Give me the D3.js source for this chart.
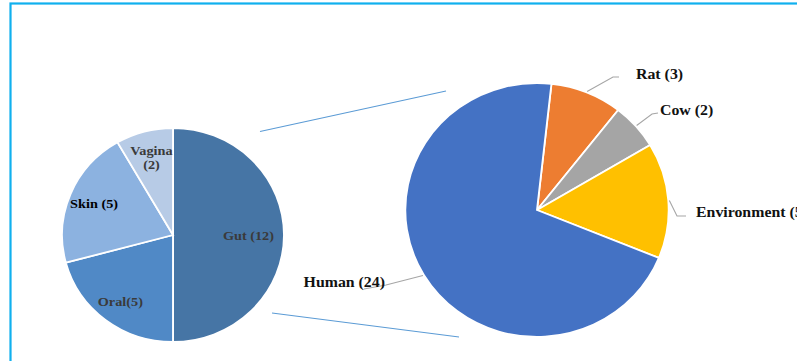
<!DOCTYPE html>
<html>
<head>
<meta charset="utf-8">
<script src="https://cdn.jsdelivr.net/npm/d3@7"></script>
<style>
	body { margin: 0; background: #fff; }
	svg { display: block; }
	.lbl { font-family: "Liberation Serif", "Times New Roman", serif; font-weight: bold; }
</style>
</head>
<body>
<div id="chart-area"></div>
<script>
// sites (left pie)
const siteNames = ["Gut", "Oral", "Skin", "Vagina"];
const siteCounts = [12, 5, 5, 2];
const siteLabels = [["Gut (12)"], ["Oral(5)"], ["Skin (5)"], ["Vagina", "(2)"]];

// sources (right pie)
const sourceNames = ["Rat", "Cow", "Environment", "Human"];
const sourceCounts = [3, 2, 5, 24];
const sourceLabels = ["Rat (3)", "Cow (2)", "Environment (5)", "Human (24)"];

let width = 797,
	height = 361;

let svg = d3.select("#chart-area").append("svg")
	.attr("width", width)
	.attr("height", height);

// frame
svg.append("rect")
	.attr("x", 10.5)
	.attr("y", 3.5)
	.attr("width", 820)
	.attr("height", 400)
	.attr("fill", "none")
	.attr("stroke", "#10b0ee")
	.attr("stroke-width", 2.2);

// connector lines between the pies
const connectors = [[260, 131.5, 446, 91], [272, 313, 459, 337]];
svg.selectAll(".conn")
	.data(connectors)
	.enter()
	.append("line")
	.attr("class", "conn")
	.attr("x1", d => d[0]).attr("y1", d => d[1])
	.attr("x2", d => d[2]).attr("y2", d => d[3])
	.attr("stroke", "#5b9bd5")
	.attr("stroke-width", 1.1);

// picture is a bit wider than tall
const stretch = 1.037;

// text drawn in a stretched group at (x,y)
function label(x, y, size, fill, anchor, lines) {
	let g = svg.append("g")
		.attr("transform", "translate(" + x + "," + y + ") scale(" + (stretch + 0.02) + ",1)");
	let t = g.append("text")
		.attr("class", "lbl")
		.attr("y", -(lines.length - 1) * 7)
		.attr("text-anchor", anchor)
		.attr("dominant-baseline", "central")
		.style("font-size", size)
		.attr("fill", fill);
	lines.forEach((s, i) => {
		t.append("tspan").attr("x", 0).attr("dy", i === 0 ? 0 : 14).text(s);
	});
}

// ---- left pie
let leftR = 107,
	leftC = [173, 235];

let siteColor = d3.scaleOrdinal()
	.domain(siteNames)
	.range(["#4675a5", "#5089c6", "#8cb2e0", "#b7cbe6"]);

let sitePie = d3.pie().sort(null).value(d => d.count);
let siteData = sitePie(siteNames.map((n, i) => ({name: n, count: siteCounts[i], label: siteLabels[i]})));

let leftArc = d3.arc().innerRadius(0).outerRadius(leftR);

let leftG = svg.append("g")
	.attr("transform", "translate(" + leftC[0] + "," + leftC[1] + ") scale(" + stretch + ",1)");

leftG.selectAll("path")
	.data(siteData)
	.enter()
	.append("path")
	.attr("d", leftArc)
	.attr("fill", d => siteColor(d.data.name))
	.attr("stroke", "#fff")
	.attr("stroke-width", 1.8);

// label radius (fraction of r)
const siteLabelPos = {Gut: 0.68, Oral: 0.78, Skin: 0.77, Vagina: 0.75};
const siteLabelFill = {Gut: "#3a3a3a", Oral: "#3a3a3a", Skin: "#000", Vagina: "#3a3a3a"};

siteData.forEach(d => {
	let a = (d.startAngle + d.endAngle) / 2;
	let rr = leftR * siteLabelPos[d.data.name];
	label(leftC[0] + Math.sin(a) * rr * stretch, leftC[1] - Math.cos(a) * rr,
		"13.5px", siteLabelFill[d.data.name], "middle", d.data.label);
});

// ---- right pie
let rightR = 127,
	rightC = [537, 210];

let sourceColor = d3.scaleOrdinal()
	.domain(sourceNames)
	.range(["#ed7d31", "#a5a5a5", "#ffc000", "#4472c4"]);

let startA = 6.3 * Math.PI / 180;
let sourcePie = d3.pie().sort(null).value(d => d.count)
	.startAngle(startA).endAngle(startA + 2 * Math.PI);
let sourceData = sourcePie(sourceNames.map((n, i) => ({name: n, count: sourceCounts[i], label: sourceLabels[i]})));

let rightArc = d3.arc().innerRadius(0).outerRadius(rightR);

let rightG = svg.append("g")
	.attr("transform", "translate(" + rightC[0] + "," + rightC[1] + ") scale(" + stretch + ",1)");

rightG.selectAll("path")
	.data(sourceData)
	.enter()
	.append("path")
	.attr("d", rightArc)
	.attr("fill", d => sourceColor(d.data.name))
	.attr("stroke", "#fff")
	.attr("stroke-width", 1.8);

// leader lines: elbow, end of horizontal, text anchor
const leader = {
	Rat: {elbow: [613, 77], end: [619, 77], text: [636, 73], anchor: "start"},
	Cow: {elbow: [652, 114], end: [658, 113], text: [660, 109], anchor: "start"},
	Environment: {elbow: [677, 216], end: [686, 216], text: [696, 211], anchor: "start"},
	Human: {elbow: [386, 285], end: [364, 289], text: [385, 281], anchor: "end"}
};

sourceData.forEach(d => {
	let a = (d.startAngle + d.endAngle) / 2;
	let p0 = [rightC[0] + Math.sin(a) * (rightR + 1) * stretch, rightC[1] - Math.cos(a) * (rightR + 1)];
	let L = leader[d.data.name];
	svg.append("polyline")
		.attr("points", [p0, L.elbow, L.end].map(p => p.join(",")).join(" "))
		.attr("fill", "none")
		.attr("stroke", "#a6a6a6")
		.attr("stroke-width", 1.1);
	label(L.text[0], L.text[1], "15px", "#111", L.anchor, [d.data.label]);
});
</script>
</body>
</html>
